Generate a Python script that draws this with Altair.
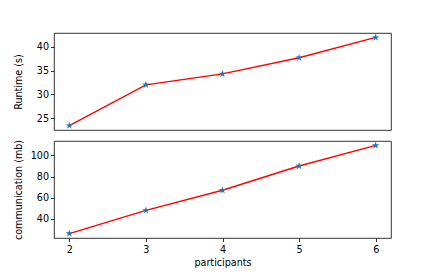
import altair as alt
import pandas as pd

participants = [2, 3, 4, 5, 6]
runtime = [23.4, 32.0, 34.3, 37.7, 42.0]
communication = [26.0, 48.0, 67.0, 90.0, 109.5]

df = pd.DataFrame({"participants": participants, "runtime": runtime,
                   "communication": communication})

FONT = "DejaVu Sans"
W, H = 337, 97
STAR = ("M0,-1L0.2245,-0.309L0.951,-0.309L0.363,0.118L0.588,0.809L0,0.382"
        "L-0.588,0.809L-0.363,0.118L-0.951,-0.309L-0.2245,-0.309Z")
xscale = alt.Scale(domain=[1.8, 6.2], nice=False, zero=False)

def panel(field, title, ydom, yvals, show_x):
    base = alt.Chart(df)
    if show_x:
        xax = alt.Axis(values=participants, format="d", title="participants",
                       labelFontSize=9.6, titleFontSize=9.6, titleFontWeight="normal",
                       tickSize=3.5, labelPadding=3, titlePadding=3, domain=False,
                       grid=False, labelColor="black", tickColor="black",
                       titleColor="black", tickWidth=0.8)
    else:
        xax = None
    yax = alt.Axis(values=yvals, title=title, labelFontSize=9.6, titleFontSize=9.6,
                   titleFontWeight="normal", tickSize=3.5, labelPadding=2,
                   domain=False, grid=False, labelColor="black", tickColor="black",
                   titleColor="black", tickWidth=0.8, titleX=-36,
                   titleBaseline="middle", titleAnchor="middle")
    x = alt.X("participants:Q", scale=xscale, axis=xax)
    y = alt.Y(f"{field}:Q", scale=alt.Scale(domain=ydom, nice=False, zero=False), axis=yax)
    line = base.mark_line(color="red", strokeWidth=1.4).encode(x=x, y=y)
    pts = base.mark_point(shape=STAR, filled=True, size=60, color="#1f77b4",
                          opacity=1).encode(x=x, y=y)
    return alt.layer(line, pts).properties(width=W, height=H)

top = panel("runtime", "Runtime (s)", [22.47, 42.93], [25, 30, 35, 40], False)
bottom = panel("communication", "communication (mb)", [21.8, 113.7], [40, 60, 80, 100], True)

chart = alt.vconcat(top, bottom, spacing=8).configure(
    font=FONT, view=alt.ViewConfig(stroke="black", strokeWidth=0.8)
).properties(padding={"left": 4, "top": 24, "right": 5, "bottom": 5})

chart.save("out.html", embed_options={"renderer": "svg", "actions": False})
